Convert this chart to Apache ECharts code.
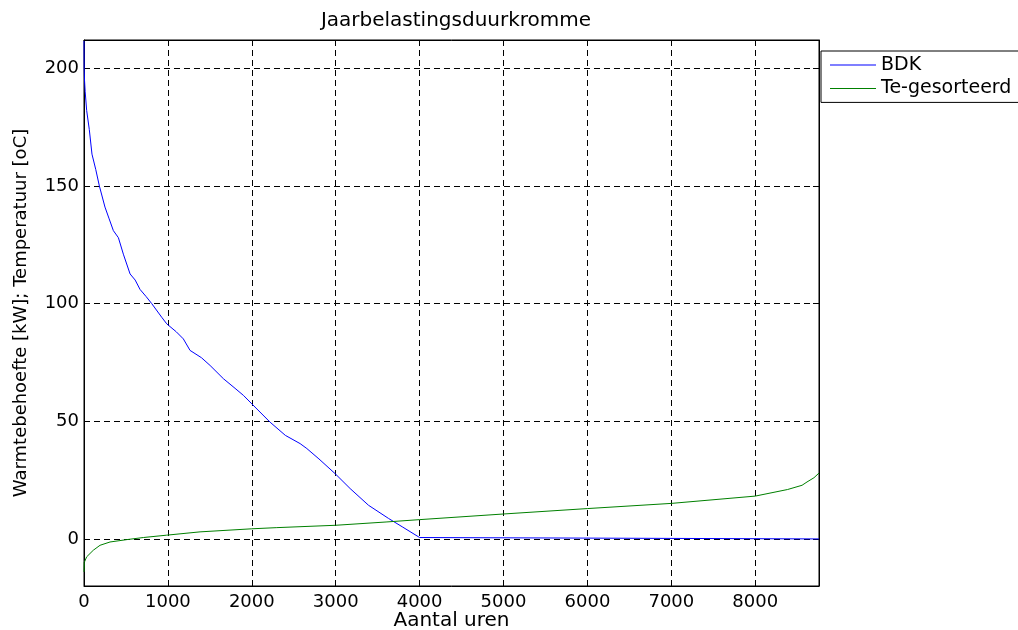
<!DOCTYPE html>
<html>
<head>
<meta charset="utf-8">
<script src="https://cdn.jsdelivr.net/npm/echarts@6/dist/echarts.min.js"></script>
<style>
html,body{margin:0;padding:0;background:#fff;}
#c{width:1018px;height:630px;}
</style>
</head>
<body>
<div id="c"></div>
<script>
const titleText = 'Jaarbelastingsduurkromme';
const xName = 'Aantal uren';
const yName = 'Warmtebehoefte [kW]; Temperatuur [oC]';
const seriesNames = ['BDK', 'Te-gesorteerd'];

const bdkHours = [0, 2, 6, 14, 32, 63, 95, 140, 183, 250, 300, 350, 410, 469, 549, 610, 668, 740, 807, 926, 986, 1100, 1184, 1264, 1400, 1503, 1661, 1800, 1900, 2000, 2218, 2400, 2576, 2656, 2800, 2994, 3172, 3391, 3630, 3800, 4000, 4010, 8760];
const bdkValues = [211.6, 200, 195, 190, 182, 174, 163.5, 157, 150, 141, 136, 131, 128, 121, 112.6, 110, 106, 103, 100, 94.2, 91.4, 88, 85, 80.1, 77, 73.7, 68.1, 64, 61, 57.4, 49.6, 44, 40.5, 38.4, 34, 27.7, 21.4, 14.3, 8.7, 5, 0.6, 0, 0];

const teHours = [0, 3, 32, 111, 191, 310, 509, 707, 986, 1383, 2000, 2298, 3000, 3600, 4000, 5000, 6000, 7000, 8000, 8386, 8558, 8617, 8700, 8760];
const teValues = [-14, -10, -7.6, -4.8, -2.7, -1.3, -0.3, 0.6, 1.6, 3, 4.3, 4.8, 5.8, 7.2, 8.2, 10.6, 12.9, 15.1, 18.2, 21, 22.8, 24.2, 26, 28];

const xMin = 0, xMax = 8760, xStep = 1000;
const yMin = -20, yMax = 212;

const FONT = 'DejaVu Sans';
const pair = (xs, ys) => xs.map((x, i) => [x, ys[i]]);
const plain = v => String(v);

const chart = echarts.init(document.getElementById('c'), null, {renderer: 'canvas'});
const gridLine = {show: true, lineStyle: {color: '#000', width: 1, type: [6, 4]}};
const blackLine = {show: true, onZero: false, lineStyle: {color: '#000', width: 1}};
const inTick = {show: true, inside: true, length: 6, lineStyle: {color: '#000'}};
chart.setOption({
  animation: false,
  backgroundColor: '#fff',
  title: {
    text: titleText, left: 451, top: 6, textAlign: 'center',
    textStyle: {fontFamily: FONT, fontSize: 20, fontWeight: 'normal', color: '#000'}
  },
  legend: {
    data: seriesNames.map(n => ({name: n, icon: 'rect'})),
    orient: 'vertical',
    left: 821, top: 51,
    itemWidth: 46, itemHeight: 1, itemGap: 3.4,
    padding: [4, 10, 4, 9],
    borderColor: '#000', borderWidth: 1, borderRadius: 0,
    backgroundColor: '#fff',
    textStyle: {fontFamily: FONT, fontSize: 19, color: '#000', lineHeight: 20},
    selectedMode: false
  },
  grid: {
    left: 84, top: 40, right: 199, bottom: 44,
    outerBoundsMode: 'none', containLabel: false,
    show: true, borderColor: '#000', borderWidth: 1, backgroundColor: 'transparent'
  },
  xAxis: [{
    type: 'value', min: xMin, max: xMax, interval: xStep, position: 'bottom',
    name: xName, nameLocation: 'middle', nameGap: 25, nameMoveOverlap: false,
    nameTextStyle: {fontFamily: FONT, fontSize: 20, color: '#000'},
    axisLine: blackLine, axisTick: inTick,
    axisLabel: {fontFamily: FONT, fontSize: 18, color: '#000', margin: 7, showMaxLabel: false, formatter: plain},
    splitLine: gridLine
  }, {
    type: 'value', min: xMin, max: xMax, interval: xStep, position: 'top',
    axisLine: blackLine, axisTick: inTick,
    axisLabel: {show: false}, splitLine: {show: false}
  }],
  yAxis: [{
    type: 'value', min: yMin, max: yMax, splitNumber: 5, position: 'left',
    name: yName, nameLocation: 'middle', nameGap: 54, nameMoveOverlap: false,
    nameTextStyle: {fontFamily: FONT, fontSize: 18, color: '#000'},
    axisLine: blackLine, axisTick: inTick,
    axisLabel: {fontFamily: FONT, fontSize: 18, color: '#000', margin: 5, showMinLabel: false, showMaxLabel: false, formatter: plain},
    splitLine: gridLine
  }, {
    type: 'value', min: yMin, max: yMax, splitNumber: 5, position: 'right',
    axisLine: blackLine, axisTick: inTick,
    axisLabel: {show: false}, splitLine: {show: false}
  }],
  series: [{
    name: seriesNames[0], type: 'line', xAxisIndex: 0, yAxisIndex: 0,
    data: pair(bdkHours, bdkValues), symbol: 'none',
    lineStyle: {color: '#0000ff', width: 1}, itemStyle: {color: '#0000ff'}
  }, {
    name: seriesNames[1], type: 'line', xAxisIndex: 0, yAxisIndex: 0,
    data: pair(teHours, teValues), symbol: 'none',
    lineStyle: {color: '#008000', width: 1}, itemStyle: {color: '#008000'}
  }]
});
</script>
</body>
</html>
